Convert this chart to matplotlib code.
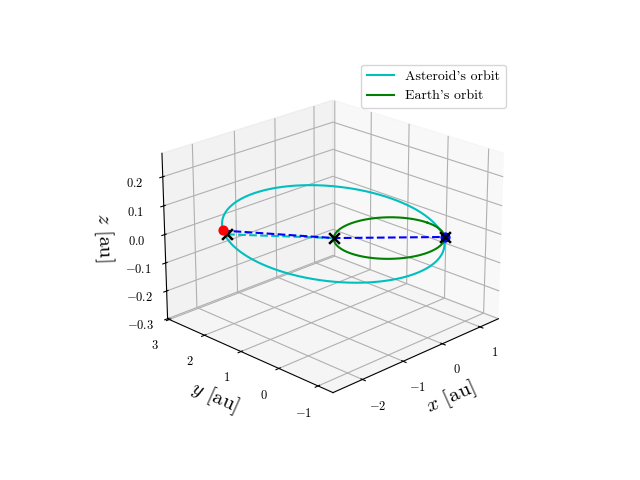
import numpy as np
import matplotlib
matplotlib.use("Agg")
import matplotlib.pyplot as plt

plt.rcParams.update({"font.family": "serif", "font.serif": ["cmr10"],
                     "mathtext.fontset": "cm", "axes.formatter.use_mathtext": True,
                     "axes.unicode_minus": True})

# Orbit parameters
earth_radius = 1.0
ast_q = 1.0            # perihelion distance [au]
ast_Q = 3.0            # aphelion distance [au]
apse_angle_deg = -45   # direction of perihelion in the xy plane
ast_z0 = 0.0
ast_zslope_x = 0.0015
ast_zslope_y = 0.0315
# marker positions [x, y, z]
ast_pos = [-2.12, 2.12, 0.03]
earth_now = [0.707, -0.707, 0.0]
x_marks = [[-2.05, 2.08, 0.015], [-0.707, 0.707, 0.0], [0.707, -0.707, 0.0]]

t = np.linspace(0, 2*np.pi, 400)
ex, ey, ez = earth_radius*np.cos(t), earth_radius*np.sin(t), 0*t
a = (ast_q + ast_Q)/2
e = (ast_Q - ast_q)/(ast_Q + ast_q)
b = a*np.sqrt(1 - e**2)
X = a*(np.cos(t) - e); Y = b*np.sin(t)
ph = np.deg2rad(apse_angle_deg)
ax_ = X*np.cos(ph) - Y*np.sin(ph)
ay_ = X*np.sin(ph) + Y*np.cos(ph)
az_ = ast_z0 + ast_zslope_x*ax_ + ast_zslope_y*ay_

fig = plt.figure(figsize=(6.4, 4.8), dpi=100)
ax = fig.add_subplot(projection="3d")
ax.plot(ax_, ay_, az_, color="c", label="Asteroid's orbit")
ax.plot(ex, ey, ez, color="g", label="Earth's orbit")
xm = np.array(x_marks)
ax.plot(xm[:2, 0], xm[:2, 1], xm[:2, 2], "c--", lw=1.5)
bl = np.array([ast_pos, x_marks[1], x_marks[2]])
ax.plot(bl[:, 0], bl[:, 1], bl[:, 2], "b--", lw=1.5)
ax.scatter(*[[v] for v in ast_pos], color="r", s=40, depthshade=False)
ax.scatter(*[[v] for v in earth_now], color="b", s=40, depthshade=False)
ax.scatter(xm[:, 0], xm[:, 1], xm[:, 2], color="k", marker="x", s=60, linewidths=1.8, depthshade=False)
ax.set_xlim(-2.7, 1.5); ax.set_ylim(-1.37, 3.05); ax.set_zlim(-0.3, 0.28)
ax.set_xticks([-2, -1, 0, 1]); ax.set_yticks([-1, 0, 1, 2, 3])
ax.set_zticks([-0.3, -0.2, -0.1, 0.0, 0.1, 0.2])
ax.set_xlabel("$x$ [au]", fontsize=15); ax.set_ylabel("$y$ [au]", fontsize=15)
ax.set_zlabel("$z$ [au]", fontsize=15)
ax.tick_params(labelsize=9)
ax.view_init(elev=22, azim=-135)
ax.legend(loc="upper right", fontsize=10)
fig.savefig("out.png", dpi=100)
